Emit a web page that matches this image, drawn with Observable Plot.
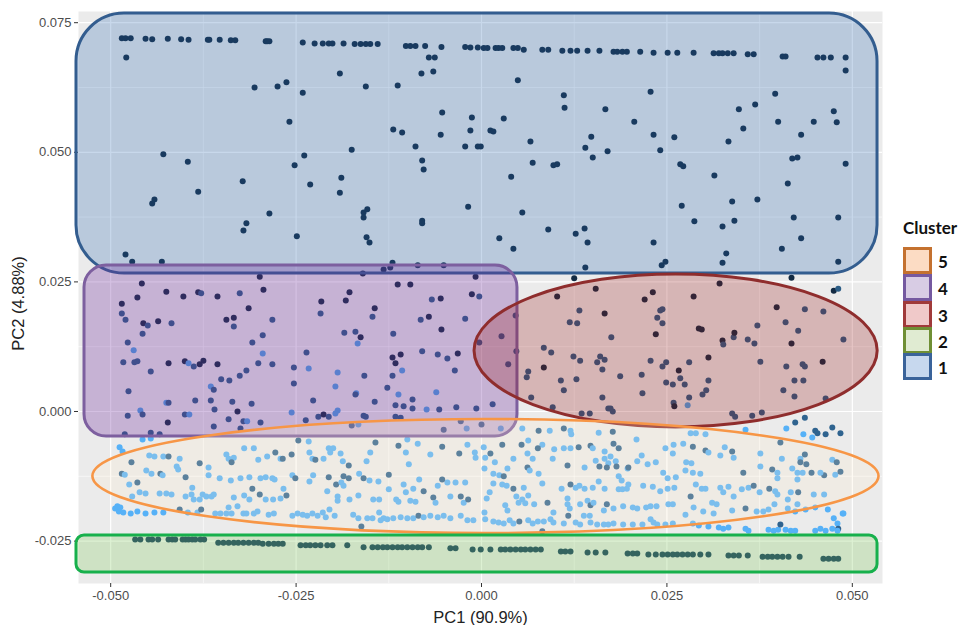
<!DOCTYPE html>
<html><head><meta charset="utf-8">
<script src="https://cdn.jsdelivr.net/npm/d3@7"></script>
<script src="https://cdn.jsdelivr.net/npm/@observablehq/plot@0.6"></script>
<style>
body{margin:0;background:#fff;}
#wrap{position:relative;width:963px;height:625px;overflow:hidden;}
#legend{position:absolute;left:903px;top:219px;font-family:Lato,"Open Sans",sans-serif;font-weight:700;color:#111;}
#legend .title{position:absolute;left:0;top:0;font-size:17px;line-height:18px;white-space:nowrap;}
#legend .box{position:absolute;left:0;width:23px;height:21px;border:3px solid;}
#legend .lab{position:absolute;left:35px;font-size:17px;line-height:20px;}
</style></head><body><div id="wrap"></div>
<script>
// ---- axis ticks ----
const xTicks = [-0.05, -0.025, 0, 0.025, 0.05];
const yTicks = [-0.025, 0, 0.025, 0.05, 0.075];
const xMinor = [-0.0375, -0.0125, 0.0125, 0.0375];
const yMinor = [-0.0125, 0.0125, 0.0375, 0.0625];
const legendClusters = ["5", "4", "3", "2", "1"];

// ---- cluster 1 points [PC1, PC2] ----
const cluster1 = [[-0.0485,0.0720],[-0.0480,0.0720],[-0.0473,0.0720],[-0.0453,0.0719],[-0.0444,0.0718],[-0.0423,0.0719],[-0.0405,0.0718],[-0.0395,0.0717],[-0.0369,0.0717],[-0.0367,0.0717],[-0.0353,0.0717],[-0.0338,0.0716],[-0.0332,0.0716],[-0.0291,0.0714],[-0.0289,0.0714],[-0.0286,0.0714],[-0.0241,0.0712],[-0.0225,0.0710],[-0.0214,0.0710],[-0.0206,0.0710],[-0.0201,0.0710],[-0.0186,0.0710],[-0.0171,0.0709],[-0.0163,0.0709],[-0.0156,0.0709],[-0.0150,0.0709],[-0.0140,0.0709],[-0.0102,0.0705],[-0.0096,0.0705],[-0.0089,0.0705],[-0.0076,0.0705],[-0.0054,0.0703],[-0.0022,0.0703],[-0.0015,0.0702],[-0.0005,0.0702],[0.0003,0.0701],[0.0008,0.0701],[0.0019,0.0701],[0.0023,0.0701],[0.0028,0.0701],[0.0043,0.0701],[0.0049,0.0701],[0.0057,0.0698],[0.0082,0.0698],[0.0090,0.0698],[0.0109,0.0696],[0.0120,0.0696],[0.0129,0.0696],[0.0143,0.0696],[0.0159,0.0696],[0.0178,0.0694],[0.0183,0.0694],[0.0190,0.0694],[0.0196,0.0694],[0.0214,0.0694],[0.0232,0.0692],[0.0251,0.0692],[0.0264,0.0692],[0.0286,0.0692],[0.0313,0.0691],[0.0320,0.0691],[0.0325,0.0691],[0.0332,0.0691],[0.0340,0.0691],[0.0359,0.0689],[0.0367,0.0689],[0.0406,0.0685],[0.0410,0.0685],[0.0453,0.0683],[0.0461,0.0683],[0.0471,0.0683],[0.0491,0.0683],[0.0491,0.0658],
[-0.0479,0.0683],[-0.0191,0.0652],[-0.0081,0.0652],[-0.0065,0.0656],[-0.0071,0.0683],[-0.0063,0.0683],[-0.0306,0.0625],[-0.0275,0.0627],[-0.0263,0.0635],[-0.0241,0.0615],[-0.0156,0.0627],[-0.0113,0.0629],[-0.0259,0.0559],[-0.0053,0.0577],[-0.0119,0.0544],[-0.0107,0.0538],[-0.0055,0.0534],[-0.0013,0.0567],[-0.0015,0.0542],[-0.0022,0.0511],[-0.0005,0.0511],[-0.0089,0.0511],[-0.0175,0.0505],[-0.0429,0.0496],[-0.0239,0.0494],[-0.0396,0.0482],[-0.0252,0.0475],[-0.0080,0.0484],[-0.0078,0.0467],[-0.0322,0.0444],[-0.0189,0.0451],[-0.0231,0.0438],[-0.0382,0.0424],[-0.0191,0.0422],[-0.0441,0.0409],[-0.0444,0.0401],[-0.0018,0.0395],[-0.0286,0.0382],[-0.0159,0.0384],[-0.0154,0.0390],[-0.0159,0.0374],[-0.0317,0.0363],[-0.0321,0.0349],[-0.0080,0.0368],[-0.0080,0.0363],[-0.0249,0.0338],[-0.0155,0.0336],[-0.0151,0.0326],[-0.0480,0.0303],[-0.0471,0.0289],[-0.0431,0.0289],[-0.0120,0.0287],[-0.0123,0.0278],[-0.0132,0.0274],[-0.0086,0.0282],[-0.0051,0.0282],[-0.0160,0.0266],
[0.0049,0.0639],[0.0111,0.0610],[0.0112,0.0586],[0.0228,0.0617],[0.0167,0.0583],[0.0396,0.0613],[0.0347,0.0583],[0.0369,0.0592],[0.0400,0.0559],[0.0448,0.0559],[0.0479,0.0558],[0.0475,0.0579],[0.0030,0.0565],[0.0012,0.0542],[0.0016,0.0540],[0.0206,0.0559],[0.0353,0.0546],[-0.0001,0.0511],[0.0066,0.0521],[0.0148,0.0530],[0.0140,0.0509],[0.0150,0.0490],[0.0170,0.0502],[0.0232,0.0534],[0.0241,0.0504],[0.0260,0.0529],[0.0333,0.0521],[0.0431,0.0534],[0.0069,0.0480],[0.0097,0.0475],[0.0102,0.0477],[0.0268,0.0477],[0.0272,0.0473],[0.0419,0.0488],[0.0426,0.0490],[0.0491,0.0478],[0.0040,0.0453],[0.0314,0.0455],[0.0413,0.0440],[0.0270,0.0397],[0.0055,0.0384],[0.0338,0.0405],[0.0372,0.0409],[0.0287,0.0367],[0.0325,0.0357],[0.0341,0.0368],[0.0421,0.0374],[0.0481,0.0374],[0.0090,0.0351],[0.0127,0.0343],[0.0139,0.0353],[0.0143,0.0326],[0.0024,0.0334],[0.0043,0.0314],[0.0232,0.0326],[0.0431,0.0334],[0.0405,0.0314],[0.0243,0.0282],[0.0248,0.0289],[0.0330,0.0305],[0.0325,0.0287],[0.0481,0.0289],[0.0140,0.0278]];

// ---- cluster 2 points ----
const cluster2PC1 = [-0.0467,-0.0460,-0.0449,-0.0444,-0.0436,-0.0422,-0.0417,-0.0413,-0.0403,-0.0399,-0.0395,-0.0390,-0.0386,-0.0379,-0.0374,
-0.0355,-0.0348,-0.0341,-0.0334,-0.0328,-0.0321,-0.0314,-0.0307,-0.0301,
-0.0295,-0.0287,-0.0280,-0.0274,-0.0268,
-0.0244,-0.0237,-0.0231,-0.0224,-0.0217,-0.0208,-0.0201,-0.0181,
-0.0159,-0.0147,-0.0140,-0.0133,-0.0127,-0.0120,-0.0113,-0.0107,-0.0100,-0.0093,-0.0086,-0.0080,-0.0071,
-0.0042,-0.0035,-0.0012,-0.0001,0.0012,
0.0026,0.0032,0.0039,0.0046,0.0053,0.0059,0.0066,0.0073,0.0080,
0.0107,0.0113,0.0120,0.0143,0.0154,0.0167,0.0197,0.0204,0.0210,
0.0225,0.0235,0.0244,0.0251,0.0258,0.0264,0.0271,0.0278,0.0285,0.0295,0.0306,
0.0333,0.0340,0.0347,0.0359,
0.0379,0.0386,0.0392,0.0399,0.0406,0.0414,0.0429,
0.0461,0.0468,0.0475,0.0481];
const cluster2PC2 = [-0.0247,-0.0247,-0.0247,-0.0247,-0.0247,-0.0247,-0.0247,-0.0247,-0.0247,-0.0247,-0.0247,-0.0247,-0.0247,-0.0247,-0.0247,
-0.0253,-0.0253,-0.0253,-0.0253,-0.0253,-0.0253,-0.0253,-0.0253,-0.0253,
-0.0255,-0.0255,-0.0255,-0.0255,-0.0255,
-0.0258,-0.0258,-0.0258,-0.0258,-0.0258,-0.0258,-0.0258,-0.0258,
-0.0262,-0.0262,-0.0262,-0.0262,-0.0262,-0.0262,-0.0262,-0.0262,-0.0262,-0.0262,-0.0262,-0.0262,-0.0262,
-0.0264,-0.0264,-0.0266,-0.0266,-0.0266,
-0.0266,-0.0266,-0.0266,-0.0266,-0.0266,-0.0266,-0.0266,-0.0266,-0.0266,
-0.0270,-0.0270,-0.0270,-0.0272,-0.0272,-0.0272,-0.0274,-0.0274,-0.0274,
-0.0276,-0.0276,-0.0276,-0.0276,-0.0276,-0.0276,-0.0276,-0.0276,-0.0276,-0.0276,-0.0276,
-0.0278,-0.0278,-0.0278,-0.0278,
-0.0280,-0.0280,-0.0280,-0.0280,-0.0280,-0.0280,-0.0280,
-0.0284,-0.0284,-0.0284,-0.0284];

// ---- cluster 3 points [PC1, PC2, shade] ----
const cluster3 = [[0.0102,0.0222,0],[0.0154,0.0237,0],[0.0220,0.0216,0],[0.0231,0.0230,0],[0.0286,0.0222,0],[0.0321,0.0247,0],[0.0132,0.0195,0.4],[0.0119,0.0172,0.4],[0.0129,0.0170,0.4],[0.0166,0.0189,0],[0.0237,0.0181,0.4],[0.0241,0.0195,0.4],[0.0244,0.0197,0.4],[0.0244,0.0170,0.4],[0.0235,0.0149,0],[0.0293,0.0160,0],[0.0297,0.0158,0],[0.0175,0.0143,0.4],[0.0084,0.0123,0.4],[0.0094,0.0114,0.4],[0.0124,0.0106,0.4],[0.0133,0.0098,0.4],[0.0084,0.0085,0],[0.0063,0.0077,0.4],[0.0061,0.0066,0.4],[0.0107,0.0060,0.4],[0.0128,0.0062,0.4],[0.0156,0.0095,0.4],[0.0166,0.0100,0.4],[0.0160,0.0106,0.4],[0.0163,0.0081,0.4],[0.0187,0.0068,0.4],[0.0216,0.0071,0.4],[0.0228,0.0098,0.4],[0.0244,0.0087,0.4],[0.0249,0.0095,0.4],[0.0266,0.0079,0],[0.0280,0.0095,0.4],[0.0306,0.0104,0],[0.0249,0.0056,0.4],[0.0258,0.0052,0.4],[0.0268,0.0064,0.4],[0.0274,0.0052,0.4],[0.0306,0.0060,0.4],[0.0303,0.0041,0.4],[0.0298,0.0033,0.4],[0.0280,0.0027,0.4],[0.0217,0.0035,0.4],[0.0163,0.0027,0.4],[0.0111,0.0041,0.4],[0.0067,0.0027,0.4],[0.0096,0.0008,0.4],[0.0135,-0.0004,0.4],[0.0146,-0.0004,0.4],[0.0171,0.0006,0.4],[0.0174,0.0006,0.4],[0.0177,0.0000,0.4],[0.0259,0.0017,0.4],[0.0260,0.0010,0],[0.0278,0.0012,0.9],[0.0338,-0.0004,0.4],[0.0342,-0.0010,0.4],[0.0365,-0.0008,0.4],[0.0378,-0.0002,0.4],[0.0325,0.0137,0],[0.0326,0.0129,0.4],[0.0340,0.0143,0.4],[0.0341,0.0152,0],[0.0359,0.0139,0.4],[0.0368,0.0131,0.4],[0.0372,0.0166,0.4],[0.0398,0.0201,0],[0.0410,0.0172,0.4],[0.0427,0.0156,0.4],[0.0418,0.0131,0],[0.0436,0.0197,0.4],[0.0461,0.0193,0.4],[0.0488,0.0139,0.4],[0.0460,0.0096,0],[0.0376,0.0096,0.4],[0.0411,0.0087,0.4],[0.0433,0.0091,0.4],[0.0436,0.0087,0.4],[0.0422,0.0060,0.4],[0.0434,0.0060,0.4],[0.0407,0.0041,0.4],[0.0422,0.0029,0.4],[0.0464,0.0025,0.4],[0.0125,0.0257,0],[0.0418,0.0258,0],[0.0475,0.0233,0],[0.0481,0.0237,0.4]];

// ---- cluster 4 points [PC1, PC2, shade] ----
const cluster4 = [[-0.0458,0.0247,0],[-0.0464,0.0220,0],[-0.0485,0.0208,0],[-0.0485,0.0189,0.4],[-0.0480,0.0177,0.4],[-0.0456,0.0170,0],[-0.0450,0.0166,0.4],[-0.0436,0.0174,0],[-0.0418,0.0170,0.4],[-0.0457,0.0150,0.4],[-0.0425,0.0231,0],[-0.0402,0.0222,0],[-0.0382,0.0230,0],[-0.0378,0.0228,0.4],[-0.0356,0.0222,0],[-0.0326,0.0228,0.4],[-0.0299,0.0260,0],[-0.0294,0.0235,0],[-0.0314,0.0199,0],[-0.0344,0.0177,0],[-0.0334,0.0181,0],[-0.0334,0.0164,0.4],[-0.0282,0.0177,0.4],[-0.0295,0.0147,0.4],[-0.0309,0.0133,0.4],[-0.0477,0.0133,0.4],[-0.0469,0.0118,0.9],[-0.0483,0.0095,0.4],[-0.0468,0.0095,0.4],[-0.0464,0.0097,0.4],[-0.0446,0.0077,0.4],[-0.0422,0.0093,0],[-0.0400,0.0097,0],[-0.0395,0.0093,0.9],[-0.0388,0.0087,0.4],[-0.0380,0.0091,0],[-0.0375,0.0098,0],[-0.0356,0.0091,0],[-0.0351,0.0062,0.4],[-0.0340,0.0060,0.4],[-0.0326,0.0069,0.4],[-0.0317,0.0079,0.4],[-0.0301,0.0093,0.4],[-0.0295,0.0112,0.9],[-0.0282,0.0091,0.4],[-0.0476,0.0039,0.4],[-0.0365,0.0048,0.9],[-0.0361,0.0042,0.4],[-0.0253,0.0085,0.4],[-0.0253,0.0054,0.4],[-0.0236,0.0114,0.4],[-0.0233,0.0083,0.9],[-0.0216,0.0212,0],[-0.0217,0.0189,0.4],[-0.0183,0.0214,0],[-0.0178,0.0230,0],[-0.0185,0.0152,0.4],[-0.0170,0.0154,0.4],[-0.0163,0.0143,0],[-0.0167,0.0131,0.9],[-0.0144,0.0199,0],[-0.0147,0.0183,0.4],[-0.0194,0.0075,0.9],[-0.0158,0.0069,0.4],[-0.0197,0.0048,0.9],[-0.0169,0.0035,0.9],[-0.0170,0.0033,0.4],[-0.0119,0.0150,0.4],[-0.0113,0.0245,0],[-0.0096,0.0245,0],[-0.0120,0.0104,0],[-0.0116,0.0093,0],[-0.0109,0.0110,0],[-0.0107,0.0079,0.9],[-0.0120,0.0069,0.4],[-0.0127,0.0046,0.4],[-0.0082,0.0177,0.4],[-0.0071,0.0183,0],[-0.0067,0.0216,0.4],[-0.0055,0.0218,0],[-0.0054,0.0158,0],[-0.0080,0.0116,0.4],[-0.0059,0.0110,0.4],[-0.0046,0.0102,0.4],[-0.0032,0.0112,0],[-0.0036,0.0079,0.4],[-0.0022,0.0179,0.4],[-0.0013,0.0226,0],[-0.0003,0.0222,0.4],[-0.0008,0.0260,0],[-0.0061,0.0037,0.9],[-0.0112,0.0033,0.9],[-0.0093,0.0023,0.4],[0.0015,0.0014,0.4],[-0.0425,0.0017,0.9],[-0.0422,0.0017,0.4],[-0.0386,0.0021,0.4],[-0.0365,0.0021,0.4],[-0.0336,0.0019,0.4],[-0.0310,0.0015,0.4],[-0.0360,0.0004,0.4],[-0.0460,0.0002,0.9],[-0.0457,-0.0006,0.4],[-0.0477,-0.0008,0.4],[-0.0400,-0.0006,0.4],[-0.0394,-0.0006,0.9],[-0.0329,0.0000,0],[-0.0423,-0.0021,0],[-0.0341,-0.0015,0.4],[-0.0321,-0.0019,0.4],[-0.0316,-0.0019,0.9],[-0.0325,-0.0033,0.4],[-0.0298,-0.0021,0.4],[-0.0361,-0.0029,0.4],[-0.0256,-0.0002,0.9],[-0.0227,0.0021,0.4],[-0.0237,-0.0017,0.4],[-0.0220,-0.0010,0.4],[-0.0213,-0.0006,0],[-0.0206,-0.0010,0.4],[-0.0194,0.0002,0.9],[-0.0197,-0.0004,0.9],[-0.0159,-0.0008,0.4],[-0.0156,-0.0010,0.4],[-0.0144,0.0019,0.4],[-0.0116,0.0012,0.4],[-0.0105,0.0010,0.4],[-0.0093,0.0006,0.4],[-0.0074,0.0004,0.9],[-0.0116,-0.0010,0.4],[-0.0109,-0.0012,0.4],[-0.0057,0.0004,0.4],[-0.0034,0.0008,0.4],[-0.0007,0.0006,0.4],[-0.0028,-0.0019,0.4],[-0.0020,-0.0033,0.9],[0.0000,-0.0025,0.4],[0.0026,-0.0033,0.9],[-0.0051,-0.0035,0.4],[-0.0175,-0.0027,0.4],[-0.0166,-0.0025,0.9],[-0.0446,-0.0041,0.4],[-0.0434,-0.0044,0.4],[-0.0481,-0.0044,0.4],[0.0046,0.0185,0.4],[0.0027,0.0145,0.4],[0.0036,0.0091,0.4],[0.0047,0.0116,0.4],[-0.0003,0.0133,0.4]];

// ---- cluster 5 points [PC1, PC2, shade] ----
const cluster5 = [[-0.0488,-0.0069,1],[-0.0484,-0.0077,1],[-0.0457,-0.0054,1],[-0.0446,-0.0052,1],[-0.0472,-0.0098,0.45],[-0.0485,-0.0120,0.45],[-0.0481,-0.0122,1],[-0.0448,-0.0085,1],[-0.0441,-0.0087,1],[-0.0429,-0.0087,1],[-0.0422,-0.0087,0.45],[-0.0407,-0.0091,1],[-0.0452,-0.0114,1],[-0.0445,-0.0120,1],[-0.0433,-0.0120,0.45],[-0.0430,-0.0123,1],[-0.0411,-0.0106,1],[-0.0409,-0.0112,1],[-0.0475,-0.0141,1],[-0.0464,-0.0137,0.45],[-0.0399,-0.0127,0.45],[-0.0380,-0.0100,0.45],[-0.0368,-0.0108,1],[-0.0368,-0.0123,1],[-0.0353,-0.0129,1],[-0.0471,-0.0164,1],[-0.0461,-0.0156,1],[-0.0453,-0.0158,1],[-0.0434,-0.0158,1],[-0.0425,-0.0158,1],[-0.0418,-0.0160,1],[-0.0399,-0.0164,1],[-0.0391,-0.0160,1],[-0.0390,-0.0147,1],[-0.0376,-0.0160,1],[-0.0371,-0.0164,1],[-0.0364,-0.0164,1],[-0.0361,-0.0160,1],[-0.0380,-0.0170,1],[-0.0388,-0.0170,1],[-0.0344,-0.0083,1],[-0.0341,-0.0091,1],[-0.0334,-0.0089,1],[-0.0337,-0.0098,0.45],[-0.0320,-0.0071,1],[-0.0307,-0.0071,1],[-0.0338,-0.0133,1],[-0.0325,-0.0129,1],[-0.0313,-0.0127,1],[-0.0298,-0.0129,1],[-0.0291,-0.0127,1],[-0.0309,-0.0149,0.45],[-0.0299,-0.0160,0.45],[-0.0334,-0.0166,1],[-0.0320,-0.0162,1],[-0.0313,-0.0170,1],[-0.0341,-0.0185,1],[-0.0329,-0.0183,1],[-0.0301,-0.0093,1],[-0.0289,-0.0087,1],[-0.0278,-0.0079,0.45],[-0.0271,-0.0091,1],[-0.0282,-0.0129,1],[-0.0279,-0.0131,1],[-0.0291,-0.0170,1],[-0.0281,-0.0170,1],
[-0.0494,-0.0187,1],[-0.0489,-0.0193,1],[-0.0483,-0.0195,1],[-0.0473,-0.0197,1],[-0.0464,-0.0193,1],[-0.0453,-0.0197,1],[-0.0441,-0.0195,1],[-0.0429,-0.0195,1],[-0.0407,-0.0189,0.45],[-0.0396,-0.0195,1],[-0.0383,-0.0195,1],[-0.0378,-0.0189,0.45],[-0.0359,-0.0197,1],[-0.0352,-0.0197,1],[-0.0344,-0.0197,1],[-0.0337,-0.0197,1],[-0.0321,-0.0197,1],[-0.0317,-0.0197,1],[-0.0307,-0.0197,1],[-0.0302,-0.0193,1],[-0.0287,-0.0199,1],[-0.0280,-0.0197,1],[-0.0491,-0.0183,1],[-0.0487,-0.0185,1],
[-0.0247,-0.0056,0.45],[-0.0233,-0.0058,1],[-0.0206,-0.0071,1],[-0.0200,-0.0071,1],[-0.0204,-0.0079,1],[-0.0232,-0.0079,1],[-0.0228,-0.0091,1],[-0.0224,-0.0093,0.45],[-0.0213,-0.0091,1],[-0.0190,-0.0081,1],[-0.0187,-0.0096,1],[-0.0179,-0.0104,0.45],[-0.0143,-0.0060,0.45],[-0.0150,-0.0079,1],[-0.0155,-0.0096,1],[-0.0112,-0.0066,0.45],[-0.0086,-0.0062,1],[-0.0100,-0.0054,1],[-0.0102,-0.0079,1],[-0.0098,-0.0102,1],[-0.0069,-0.0083,1],[-0.0053,-0.0068,0.45],[-0.0030,-0.0081,0.45],[-0.0019,-0.0064,1],[-0.0009,-0.0079,1],[-0.0008,-0.0089,1],[-0.0256,-0.0083,0.45],[-0.0268,-0.0091,0.45],[-0.0255,-0.0123,1],[-0.0251,-0.0129,0.45],[-0.0227,-0.0123,1],[-0.0232,-0.0135,1],[-0.0206,-0.0127,0.45],[-0.0196,-0.0141,0.45],[-0.0186,-0.0125,0.45],[-0.0179,-0.0129,0.45],[-0.0189,-0.0137,1],[-0.0186,-0.0143,1],[-0.0165,-0.0120,1],[-0.0159,-0.0129,0.45],[-0.0151,-0.0133,1],[-0.0139,-0.0135,1],[-0.0125,-0.0122,0.45],[-0.0125,-0.0150,1],[-0.0105,-0.0141,1],[-0.0102,-0.0156,1],[-0.0092,-0.0149,1],[-0.0084,-0.0131,1],[-0.0078,-0.0154,0.45],[-0.0059,-0.0143,1],[-0.0046,-0.0137,1],[-0.0035,-0.0137,1],[-0.0022,-0.0137,1],[-0.0053,-0.0131,0.45],[-0.0267,-0.0149,1],[-0.0263,-0.0162,0.45],[-0.0271,-0.0168,1],[-0.0208,-0.0154,1],[-0.0194,-0.0164,1],[-0.0194,-0.0172,1],[-0.0178,-0.0170,1],[-0.0166,-0.0162,1],[-0.0146,-0.0170,1],[-0.0138,-0.0170,1],[-0.0115,-0.0170,1],[-0.0112,-0.0174,1],[-0.0096,-0.0172,1],[-0.0089,-0.0174,1],[-0.0065,-0.0166,0.45],[-0.0062,-0.0176,1],[-0.0042,-0.0164,1],[-0.0028,-0.0164,0.45],[-0.0024,-0.0176,1],[-0.0018,-0.0170,0.45],[-0.0173,-0.0199,1],[-0.0138,-0.0195,1],[-0.0132,-0.0206,1],[-0.0205,-0.0189,1],[-0.0198,-0.0201,1],
[-0.0255,-0.0201,1],[-0.0248,-0.0197,1],[-0.0241,-0.0199,1],[-0.0235,-0.0201,1],[-0.0228,-0.0197,1],[-0.0221,-0.0201,1],[-0.0214,-0.0195,1],[-0.0210,-0.0204,1],[-0.0154,-0.0206,1],[-0.0147,-0.0206,1],[-0.0136,-0.0210,1],[-0.0127,-0.0208,1],[-0.0119,-0.0206,1],[-0.0109,-0.0204,1],[-0.0100,-0.0206,1],[-0.0092,-0.0206,1],[-0.0085,-0.0201,0.45],[-0.0078,-0.0204,1],[-0.0069,-0.0201,1],[-0.0059,-0.0204,1],[-0.0051,-0.0201,1],[-0.0042,-0.0206,1],[-0.0028,-0.0201,1],[-0.0019,-0.0210,1],[-0.0011,-0.0210,1],[-0.0162,-0.0222,0.45],[-0.0166,-0.0206,1],
[0.0055,-0.0033,1],[0.0077,-0.0037,0.45],[0.0092,-0.0037,1],[0.0111,-0.0033,0.45],[0.0120,-0.0037,1],[0.0121,-0.0044,1],[0.0177,-0.0039,0.45],[0.0158,-0.0041,1],[0.0063,-0.0056,1],[0.0054,-0.0064,0.45],[0.0028,-0.0064,0.45],[0.0003,-0.0069,1],[0.0082,-0.0064,1],[0.0076,-0.0071,0.45],[0.0098,-0.0073,1],[0.0111,-0.0071,1],[0.0120,-0.0071,1],[0.0131,-0.0069,0.45],[0.0147,-0.0066,0.45],[0.0150,-0.0071,1],[0.0166,-0.0077,1],[0.0178,-0.0062,0.45],[0.0185,-0.0071,0.45],[0.0174,-0.0087,1],[0.0209,-0.0054,1],[0.0216,-0.0085,1],[0.0248,-0.0071,1],[0.0259,-0.0064,1],[0.0258,-0.0081,1],[0.0005,-0.0089,1],[0.0012,-0.0081,0.45],[0.0018,-0.0098,1],[0.0043,-0.0091,1],[0.0069,-0.0091,1],[0.0062,-0.0081,1],[0.0096,-0.0091,1],[0.0154,-0.0095,1],[0.0166,-0.0091,1],[0.0171,-0.0100,1],[0.0159,-0.0106,0.45],[0.0169,-0.0108,0.45],[0.0181,-0.0096,1],[0.0182,-0.0106,0.45],[0.0197,-0.0110,1],[0.0198,-0.0108,0.45],[0.0116,-0.0104,0.45],[0.0139,-0.0108,1],[0.0035,-0.0110,1],[0.0062,-0.0108,0.45],[0.0065,-0.0114,1],[0.0210,-0.0096,1],[0.0224,-0.0102,1],[0.0235,-0.0098,1],[0.0245,-0.0118,1],[0.0251,-0.0129,1],[0.0262,-0.0127,1],[0.0004,-0.0110,1],[0.0016,-0.0120,1],[0.0024,-0.0123,1],[0.0030,-0.0125,0.45],[0.0077,-0.0120,1],[0.0185,-0.0125,1],[0.0189,-0.0133,1],[0.0016,-0.0139,1],[0.0028,-0.0141,1],[0.0034,-0.0143,1],[0.0043,-0.0149,0.45],[0.0057,-0.0147,1],[0.0082,-0.0139,1],[0.0108,-0.0149,1],[0.0120,-0.0141,0.45],[0.0127,-0.0147,1],[0.0132,-0.0143,1],[0.0139,-0.0149,1],[0.0150,-0.0147,1],[0.0158,-0.0135,1],[0.0166,-0.0149,1],[0.0185,-0.0150,1],[0.0190,-0.0150,1],[0.0196,-0.0149,1],[0.0198,-0.0141,1],[0.0218,-0.0143,1],[0.0231,-0.0145,1],[0.0241,-0.0154,1],[0.0251,-0.0149,1],[0.0260,-0.0147,1],[0.0011,-0.0156,1],[0.0007,-0.0168,1],[0.0047,-0.0164,1],[0.0055,-0.0170,1],[0.0063,-0.0162,1],[0.0089,-0.0176,0.45],[0.0116,-0.0168,1],[0.0116,-0.0179,1],[0.0119,-0.0187,1],[0.0133,-0.0179,1],[0.0143,-0.0172,1],[0.0147,-0.0181,0.45],[0.0151,-0.0176,1],[0.0169,-0.0179,0.45],[0.0191,-0.0183,1],[0.0204,-0.0185,1],[0.0210,-0.0187,1],[0.0222,-0.0185,1],[0.0228,-0.0183,1],[0.0236,-0.0183,1],[0.0252,-0.0179,1],[0.0258,-0.0179,1],[0.0032,-0.0181,1],[0.0035,-0.0191,1],[0.0050,-0.0176,1],[0.0059,-0.0177,1],[0.0071,-0.0179,1],[0.0097,-0.0195,1],[0.0117,-0.0201,0.45],[0.0138,-0.0201,1],[0.0146,-0.0201,1],[0.0165,-0.0191,1],[0.0178,-0.0187,1],
[0.0004,-0.0195,1],[0.0005,-0.0208,1],[0.0016,-0.0212,1],[0.0023,-0.0214,1],[0.0030,-0.0216,1],[0.0038,-0.0210,1],[0.0043,-0.0216,1],[0.0051,-0.0212,0.45],[0.0063,-0.0210,1],[0.0069,-0.0216,1],[0.0076,-0.0212,1],[0.0084,-0.0212,1],[0.0093,-0.0208,1],[0.0097,-0.0214,1],[0.0111,-0.0216,1],[0.0127,-0.0214,1],[0.0133,-0.0218,1],[0.0147,-0.0214,1],[0.0156,-0.0218,1],[0.0165,-0.0218,1],[0.0171,-0.0218,1],[0.0178,-0.0216,1],[0.0191,-0.0218,1],[0.0204,-0.0218,1],[0.0217,-0.0218,1],[0.0228,-0.0208,1],[0.0232,-0.0214,1],[0.0237,-0.0218,1],[0.0248,-0.0218,1],[0.0258,-0.0216,1],[0.0082,-0.0231,0.45],
[0.0356,-0.0035,1],[0.0403,-0.0060,0.45],[0.0411,-0.0033,1],[0.0423,-0.0021,0.45],[0.0436,-0.0012,0.45],[0.0434,-0.0044,1],[0.0446,-0.0050,1],[0.0450,-0.0037,0.45],[0.0453,-0.0042,0.45],[0.0464,-0.0044,0.45],[0.0473,-0.0031,0.45],[0.0484,-0.0042,0.45],[0.0282,-0.0042,1],[0.0289,-0.0042,1],[0.0302,-0.0044,1],[0.0272,-0.0062,1],[0.0285,-0.0068,0.45],[0.0302,-0.0075,0.45],[0.0306,-0.0079,1],[0.0328,-0.0069,1],[0.0338,-0.0077,0.45],[0.0340,-0.0089,1],[0.0322,-0.0085,1],[0.0376,-0.0081,1],[0.0405,-0.0091,1],[0.0430,-0.0091,1],[0.0436,-0.0083,0.45],[0.0438,-0.0102,0.45],[0.0473,-0.0093,1],[0.0479,-0.0098,0.45],[0.0276,-0.0098,1],[0.0283,-0.0100,1],[0.0275,-0.0114,1],[0.0285,-0.0118,1],[0.0295,-0.0120,1],[0.0353,-0.0118,0.45],[0.0376,-0.0106,1],[0.0392,-0.0112,0.45],[0.0399,-0.0118,1],[0.0419,-0.0110,1],[0.0426,-0.0118,1],[0.0430,-0.0098,0.45],[0.0433,-0.0118,1],[0.0445,-0.0118,0.45],[0.0462,-0.0123,0.45],[0.0477,-0.0122,1],[0.0484,-0.0116,0.45],[0.0457,-0.0118,1],[0.0399,-0.0129,1],[0.0426,-0.0131,1],[0.0289,-0.0141,1],[0.0297,-0.0149,1],[0.0302,-0.0149,1],[0.0322,-0.0147,1],[0.0333,-0.0145,1],[0.0326,-0.0156,1],[0.0340,-0.0164,1],[0.0351,-0.0150,1],[0.0360,-0.0147,1],[0.0367,-0.0143,0.45],[0.0375,-0.0156,1],[0.0388,-0.0149,0.45],[0.0396,-0.0154,1],[0.0399,-0.0160,1],[0.0417,-0.0156,1],[0.0427,-0.0156,0.45],[0.0413,-0.0170,1],[0.0426,-0.0179,1],[0.0448,-0.0160,1],[0.0462,-0.0160,1],[0.0282,-0.0164,0.45],[0.0311,-0.0176,1],[0.0317,-0.0179,1],[0.0299,-0.0193,1],[0.0313,-0.0197,1],[0.0338,-0.0191,1],[0.0356,-0.0187,0.45],[0.0371,-0.0193,1],[0.0380,-0.0193,1],[0.0387,-0.0189,1],[0.0395,-0.0179,1],[0.0413,-0.0187,1],[0.0423,-0.0193,1],[0.0437,-0.0189,1],[0.0450,-0.0185,1],[0.0467,-0.0189,1],[0.0475,-0.0206,1],[0.0487,-0.0197,1],[0.0488,-0.0197,1],[0.0480,-0.0216,1],[0.0481,-0.0226,0.45],[0.0275,-0.0199,1],[0.0286,-0.0185,1],
[0.0285,-0.0216,1],[0.0293,-0.0220,1],[0.0306,-0.0222,1],[0.0320,-0.0224,1],[0.0326,-0.0226,1],[0.0333,-0.0224,1],[0.0356,-0.0226,1],[0.0360,-0.0230,1],[0.0387,-0.0228,1],[0.0394,-0.0230,1],[0.0400,-0.0228,1],[0.0403,-0.0218,0.45],[0.0410,-0.0228,1],[0.0417,-0.0230,1],[0.0423,-0.0230,1],[0.0450,-0.0230,1],[0.0457,-0.0226,1],[0.0464,-0.0230,1],[0.0473,-0.0226,1],[0.0480,-0.0230,1]];

// ---- cluster outline extents (data units) ----
const roundedBoxes = [
  {cluster: "1", x1: -0.05461, x2: 0.05340, y1: 0.02662, y2: 0.07677},
  {cluster: "4", x1: -0.05353, x2: 0.00485, y1: -0.00482, y2: 0.02816},
  {cluster: "2", x1: -0.05461, x2: 0.05340, y1: -0.03106, y2: -0.02392}
];
const ovals = [
  {cluster: "3", cx: 0.02624, cy: 0.01168, rx: 0.02718, ry: 0.01476},
  {cluster: "5", cx: 0.00060, cy: -0.01254, rx: 0.05300, ry: 0.01100}
];

// ---- styles ----
const shapeStyle = {
  "1": {fill: "#2a68b1", op: 0.26, stroke: "#335d8f", sw: 3, r: 48},
  "4": {fill: "#7030a0", op: 0.30, stroke: "#7d5f9f", sw: 3, r: 22},
  "3": {fill: "#961414", op: 0.25, stroke: "#8f2d2d", sw: 3},
  "5": {fill: "#ffebcd", op: 0.22, stroke: "#f79646", sw: 2.6},
  "2": {fill: "#78c850", op: 0.25, stroke: "#17b04c", sw: 3, r: 8}
};
const legendStyle = {
  "5": ["#fcdcc4", "#c4712f"], "4": ["#d8cce4", "#7559a0"], "3": ["#f0c9c9", "#a03a3a"],
  "2": ["#e0ebd2", "#6f8f35"], "1": ["#c7d8ee", "#3a639a"]
};

const points = [
  ...cluster1.map(([x, y]) => ({pc1: x, pc2: y, shade: 0})),
  ...cluster2PC1.map((x, i) => ({pc1: x, pc2: cluster2PC2[i], shade: 0.2})),
  ...cluster3.map(([x, y, s]) => ({pc1: x, pc2: y, shade: s})),
  ...cluster4.map(([x, y, s]) => ({pc1: x, pc2: y, shade: s})),
  ...cluster5.map(([x, y, s]) => ({pc1: x, pc2: y, shade: s}))
];

function boxMark(c) {
  const s = shapeStyle[c];
  return Plot.rect(roundedBoxes.filter(d => d.cluster === c), {
    x1: "x1", x2: "x2", y1: "y1", y2: "y2", rx: s.r, ry: s.r,
    fill: s.fill, fillOpacity: s.op, stroke: s.stroke, strokeWidth: s.sw
  });
}
function ovalMark(c) {
  return function (index, scales) {
    const g = d3.create("svg:g");
    for (const e of ovals.filter(d => d.cluster === c)) {
      const s = shapeStyle[c];
      const cx = scales.x(e.cx), cy = scales.y(e.cy);
      g.append("ellipse")
        .attr("cx", cx).attr("cy", cy)
        .attr("rx", Math.abs(scales.x(e.cx + e.rx) - cx))
        .attr("ry", Math.abs(scales.y(e.cy + e.ry) - cy))
        .attr("fill", s.fill).attr("fill-opacity", s.op)
        .attr("stroke", s.stroke).attr("stroke-width", s.sw);
    }
    return g.node();
  };
}

const fmt = d => d.toFixed(3);
const chart = Plot.plot({
  width: 963, height: 625,
  marginLeft: 78, marginRight: 81, marginTop: 11, marginBottom: 42,
  style: {background: "transparent", fontFamily: "'Liberation Sans', Arial, sans-serif", fontSize: "13px", color: "#4d4d4d"},
  x: {domain: [-0.05434, 0.05407], label: null, axis: null},
  y: {domain: [-0.03318, 0.07716], label: null, axis: null},
  color: {type: "linear", domain: [0, 1], range: ["#132B43", "#56B1F7"], interpolate: "lab"},
  marks: [
    Plot.frame({fill: "#ebebeb", stroke: null}),
    Plot.gridX(xMinor, {stroke: "#ffffff", strokeOpacity: 1, strokeWidth: 0.6}),
    Plot.gridY(yMinor, {stroke: "#ffffff", strokeOpacity: 1, strokeWidth: 0.6}),
    Plot.gridX(xTicks, {stroke: "#ffffff", strokeOpacity: 1, strokeWidth: 1.2}),
    Plot.gridY(yTicks, {stroke: "#ffffff", strokeOpacity: 1, strokeWidth: 1.2}),
    Plot.axisX(xTicks, {tickFormat: fmt, tickSize: 4, tickPadding: 3, fontSize: 13, stroke: "#333333", fill: "#4d4d4d", label: null}),
    Plot.axisY(yTicks, {tickFormat: fmt, tickSize: 4, tickPadding: 3, fontSize: 13, stroke: "#333333", fill: "#4d4d4d", label: null}),
    Plot.text(["PC1 (90.9%)"], {text: d => d, frameAnchor: "bottom", lineAnchor: "middle", textAnchor: "middle", dy: 34, fontSize: 16.5, fill: "#222222"}),
    Plot.text(["PC2 (4.88%)"], {text: d => d, frameAnchor: "left", lineAnchor: "middle", textAnchor: "middle", dx: -60, dy: 6, rotate: -90, fontSize: 16.5, fill: "#222222"}),
    Plot.dot(points, {x: "pc1", y: "pc2", fill: "shade", r: 3, stroke: null}),
    boxMark("1"),
    boxMark("4"),
    ovalMark("3"),
    ovalMark("5"),
    boxMark("2")
  ]
});

const wrap = document.getElementById("wrap");
wrap.appendChild(chart);
const legend = document.createElement("div");
legend.id = "legend";
let html = '<div class="title">Cluster</div>';
const rowTops = [28, 55, 82, 108, 134];
legendClusters.forEach((c, i) => {
  const [f, s] = legendStyle[c];
  html += `<div class="box" style="top:${rowTops[i]}px;background:${f};border-color:${s}"></div>`;
  html += `<div class="lab" style="top:${rowTops[i] + 5}px">${c}</div>`;
});
legend.innerHTML = html;
wrap.appendChild(legend);
</script></body></html>
